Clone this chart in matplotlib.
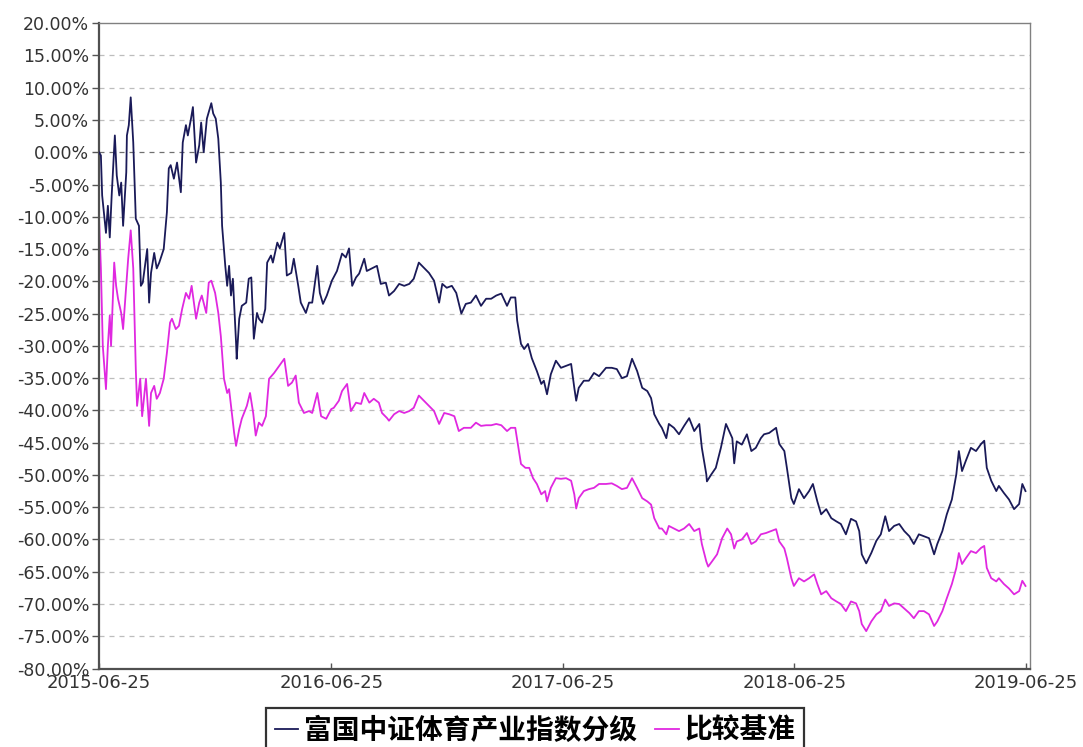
import matplotlib

matplotlib.use("Agg")
import matplotlib.dates as mdates
import matplotlib.pyplot as plt
import numpy as np
from matplotlib import font_manager
from matplotlib.ticker import FuncFormatter, MultipleLocator

START = np.datetime64("2015-06-25")

# days since 2015-06-25, cumulative return in %
fund_days = [
    0, 3, 5, 11, 14, 17, 20, 25, 28, 32, 35, 38, 43, 44, 47, 50, 54, 58, 63, 66,
    69, 76, 79, 82, 87, 91, 95, 102, 107, 110, 113, 118, 123, 129, 132, 137, 140, 145, 148, 153,
    158, 161, 165, 170, 177, 180, 184, 188, 192, 194, 199, 202, 205, 208, 211, 216, 217, 221, 225, 232,
    236, 240, 244, 249, 252, 257, 262, 265, 271, 274, 281, 285, 292, 296, 303, 307, 314, 318, 326, 331,
    336, 344, 348, 353, 359, 367, 375, 383, 389, 394, 399, 405, 410, 418, 422, 430, 438, 444, 452, 457,
    465, 473, 481, 489, 496, 504, 512, 520, 528, 536, 541, 548, 556, 563, 571, 578, 586, 594, 602, 610,
    618, 626, 634, 643, 649, 656, 659, 665, 670, 676, 682, 690, 697, 701, 706, 712, 720, 728, 736, 744,
    749, 752, 756, 764, 772, 780, 788, 799, 808, 816, 824, 832, 840, 848, 856, 864, 870, 875, 883, 887,
    894, 898, 906, 914, 922, 930, 938, 946, 950, 957, 958, 965, 972, 980, 988, 993, 998, 1001, 1005, 1013,
    1021, 1028, 1035, 1043, 1048, 1056, 1067, 1072, 1080, 1084, 1091, 1095, 1103, 1111, 1119, 1125, 1132, 1138, 1146, 1154,
    1162, 1169, 1177, 1185, 1193, 1198, 1202, 1209, 1217, 1225, 1232, 1239, 1245, 1253, 1261, 1269, 1277, 1284, 1292, 1300,
    1308, 1316, 1321, 1329, 1336, 1344, 1351, 1355, 1360, 1366, 1374, 1382, 1390, 1395, 1399, 1406, 1414, 1418, 1426, 1434,
    1442, 1450, 1455, 1460,
]
fund_pct = [
    0.0, -0.5, -6.7, -12.5, -8.3, -13.2, -6.7, 2.6, -3.6, -6.7, -4.7, -11.4, -3.1, 2.6, 4.2, 8.5, 1.5, -10.3, -11.4, -20.7,
    -20.2, -15.0, -23.3, -18.7, -15.6, -18.0, -17.1, -15.0, -9.3, -2.5, -2.0, -4.1, -1.6, -6.2, 1.5, 4.2, 2.6, 5.2, 7.0, -1.6,
    1.1, 4.6, 0.0, 5.2, 7.6, 6.0, 5.2, 2.1, -4.7, -11.4, -17.6, -20.7, -17.6, -22.2, -19.6, -29.5, -32.0, -25.8, -23.8, -23.3,
    -19.6, -19.4, -28.9, -24.9, -25.8, -26.4, -24.3, -17.1, -16.0, -17.1, -14.0, -14.9, -12.5, -19.1, -18.7, -16.5, -20.7, -23.3, -24.9, -23.3,
    -23.3, -17.6, -21.8, -23.5, -22.2, -19.9, -18.4, -15.7, -16.3, -14.9, -20.7, -19.4, -18.8, -16.5, -18.4, -18.0, -17.6, -20.4, -20.2, -22.2,
    -21.5, -20.4, -20.7, -20.4, -19.6, -17.1, -17.9, -18.7, -19.9, -23.3, -20.4, -21.0, -20.7, -21.8, -25.0, -23.5, -23.3, -22.2, -23.8, -22.7,
    -22.7, -22.2, -21.9, -23.8, -22.5, -22.5, -26.1, -29.7, -30.5, -29.7, -31.9, -33.9, -35.9, -35.4, -37.5, -34.4, -32.3, -33.4, -33.1, -32.8,
    -36.5, -38.5, -36.5, -35.4, -35.4, -34.2, -34.7, -33.4, -33.4, -33.6, -35.0, -34.7, -32.0, -33.9, -36.5, -37.0, -38.1, -40.6, -42.1, -42.7,
    -44.3, -42.1, -42.7, -43.7, -42.4, -41.2, -43.2, -42.1, -45.8, -49.9, -51.0, -49.9, -48.9, -45.8, -42.1, -43.2, -44.3, -48.2, -44.8, -45.3,
    -43.7, -46.3, -45.8, -44.3, -43.7, -43.5, -42.7, -45.2, -46.3, -48.9, -53.6, -54.5, -52.2, -53.6, -52.5, -51.4, -54.1, -56.1, -55.3, -56.7,
    -57.2, -57.6, -59.2, -56.8, -57.2, -58.7, -62.3, -63.7, -62.1, -60.2, -59.2, -56.4, -58.7, -57.9, -57.6, -58.7, -59.5, -60.7, -59.2, -59.5,
    -59.8, -62.3, -60.7, -58.7, -56.1, -53.8, -49.9, -46.3, -49.4, -47.8, -45.8, -46.3, -45.2, -44.7, -48.9, -50.9, -52.5, -51.7, -52.8, -53.8,
    -55.3, -54.5, -51.4, -52.5,
]

bench_days = [
    0, 3, 6, 11, 14, 17, 19, 24, 27, 30, 35, 38, 43, 46, 50, 54, 58, 60, 65, 68,
    74, 79, 82, 87, 91, 96, 102, 107, 112, 115, 121, 126, 131, 137, 142, 146, 153, 158, 162, 169,
    173, 177, 183, 188, 192, 197, 202, 205, 208, 213, 216, 221, 225, 233, 238, 243, 247, 252, 257, 263,
    268, 276, 284, 292, 298, 304, 310, 315, 323, 331, 336, 344, 350, 358, 366, 370, 378, 383, 391, 397,
    405, 413, 418, 426, 433, 441, 446, 454, 457, 465, 473, 481, 489, 496, 504, 512, 520, 528, 536, 544,
    552, 560, 567, 575, 586, 594, 602, 610, 618, 626, 634, 643, 649, 656, 661, 665, 672, 678, 684, 690,
    697, 703, 706, 712, 720, 728, 736, 744, 749, 752, 756, 764, 772, 780, 788, 799, 808, 816, 824, 832,
    840, 848, 856, 864, 870, 875, 883, 887, 894, 898, 906, 914, 922, 930, 938, 946, 950, 957, 960, 966,
    974, 982, 990, 996, 1001, 1005, 1013, 1021, 1028, 1035, 1043, 1051, 1059, 1067, 1072, 1080, 1084, 1091, 1095, 1103,
    1111, 1119, 1127, 1132, 1138, 1146, 1154, 1162, 1169, 1177, 1185, 1193, 1198, 1202, 1209, 1217, 1225, 1232, 1239, 1245,
    1253, 1261, 1269, 1277, 1284, 1292, 1300, 1308, 1316, 1321, 1329, 1336, 1344, 1351, 1355, 1360, 1366, 1374, 1382, 1390,
    1395, 1399, 1406, 1414, 1418, 1426, 1434, 1442, 1450, 1455, 1460,
]
bench_pct = [
    -10.0, -18.0, -30.0, -36.7, -30.0, -25.3, -30.0, -17.1, -20.7, -22.7, -24.9, -27.4, -20.7, -16.5, -12.1, -18.0, -33.6, -39.3, -35.1, -40.9,
    -35.1, -42.4, -37.3, -36.2, -38.2, -37.3, -35.1, -31.1, -26.4, -25.8, -27.4, -26.9, -24.3, -21.8, -22.7, -20.7, -25.8, -23.3, -22.2, -24.9,
    -20.2, -19.9, -21.8, -24.9, -28.5, -35.1, -37.3, -36.7, -39.3, -43.5, -45.5, -42.9, -41.3, -39.3, -37.3, -40.4, -43.9, -41.9, -42.4, -40.9,
    -35.1, -34.2, -33.1, -32.0, -36.2, -35.7, -34.6, -38.8, -40.4, -40.1, -40.4, -37.3, -40.9, -41.3, -39.8, -39.6, -38.5, -37.0, -35.9, -40.1,
    -38.8, -39.0, -37.3, -38.8, -38.2, -38.8, -40.4, -41.2, -41.6, -40.6, -40.1, -40.4, -40.1, -39.6, -37.7, -38.5, -39.3, -40.1, -42.1, -40.4,
    -40.6, -40.9, -43.2, -42.7, -42.7, -41.9, -42.4, -42.3, -42.3, -42.1, -42.3, -43.2, -42.7, -42.7, -45.8, -48.3, -48.9, -48.9, -50.5, -51.4,
    -53.0, -52.5, -54.1, -52.0, -50.5, -50.6, -50.5, -50.9, -53.0, -55.2, -53.6, -52.5, -52.2, -52.0, -51.4, -51.4, -51.3, -51.7, -52.2, -52.0,
    -50.5, -52.0, -53.6, -54.1, -54.6, -56.7, -58.3, -58.3, -59.2, -57.9, -58.3, -58.7, -58.3, -57.6, -58.7, -58.3, -60.7, -63.4, -64.2, -63.4,
    -62.3, -59.8, -58.3, -59.2, -61.4, -60.3, -60.0, -59.0, -60.7, -60.3, -59.2, -59.0, -58.7, -58.4, -60.3, -61.4, -62.9, -66.0, -67.2, -66.0,
    -66.5, -66.0, -65.4, -66.9, -68.5, -68.0, -69.1, -69.6, -70.0, -71.1, -69.6, -69.9, -71.1, -73.1, -74.2, -72.7, -71.6, -71.1, -69.3, -70.3,
    -69.9, -70.0, -70.7, -71.4, -72.2, -71.1, -71.1, -71.6, -73.4, -72.7, -71.1, -69.1, -66.9, -64.4, -62.1, -63.8, -62.9, -61.8, -62.1, -61.3,
    -61.0, -64.4, -66.0, -66.5, -66.0, -66.9, -67.6, -68.5, -68.0, -66.4, -67.2,
]

tick_dates = ["2015-06-25", "2016-06-25", "2017-06-25", "2018-06-25", "2019-06-25"]
series_names = ["富国中证体育产业指数分级", "比较基准"]


def _tick_font():
    # a narrow face is closer to the original's tall, thin digits
    try:
        font_manager.findfont("Liberation Sans Narrow", fallback_to_default=False)
        return "Liberation Sans Narrow", 17.5, 18.5
    except ValueError:
        return "DejaVu Sans", 12.5, 13


tick_family, ysize, xsize = _tick_font()

fund_x = START + np.array(fund_days, dtype="timedelta64[D]")
bench_x = START + np.array(bench_days, dtype="timedelta64[D]")

fig = plt.figure(figsize=(10.83, 7.47), dpi=100)
ax = fig.add_axes([0.0914, 0.105, 0.8596, 0.864])

for v in np.arange(-75, 20, 5):
    color = "#707070" if v == 0 else "#bdbdbd"
    ax.axhline(v, color=color, lw=0.9, ls=(0, (4, 4)), zorder=1)

l1, = ax.plot(fund_x, fund_pct, color="#1a1a58", lw=1.3, zorder=3)
l2, = ax.plot(bench_x, bench_pct, color="#e028e0", lw=1.3, zorder=2)

ax.set_ylim(-80, 20)
ax.set_xlim(np.datetime64("2015-06-25"), np.datetime64("2019-07-01"))
ax.yaxis.set_major_locator(MultipleLocator(5))
ax.yaxis.set_major_formatter(FuncFormatter(lambda v, p: f"{v:.2f}%"))
ax.set_xticks([np.datetime64(d) for d in tick_dates])
ax.xaxis.set_major_formatter(mdates.DateFormatter("%Y-%m-%d"))

ax.tick_params(axis="y", direction="out", length=5, width=1, colors="#555555",
               labelcolor="#333333", labelsize=ysize, pad=2)
ax.tick_params(axis="x", direction="in", length=4, width=1, colors="#555555",
               labelcolor="#333333", labelsize=xsize, pad=4)
for lab in ax.get_xticklabels() + ax.get_yticklabels():
    lab.set_family(tick_family)

for side in ["left", "bottom"]:
    ax.spines[side].set_color("#505050")
    ax.spines[side].set_linewidth(1.6)
for side in ["top", "right"]:
    ax.spines[side].set_color("#808080")
    ax.spines[side].set_linewidth(1.0)

leg = fig.legend([l1, l2], series_names, loc="upper center", bbox_to_anchor=(0.494, 0.052),
                 ncol=2, frameon=True, fancybox=False, handlelength=0.85, handletextpad=0.2,
                 columnspacing=0.65, borderpad=0.3, borderaxespad=0,
                 prop={"family": ["Noto Sans CJK SC", "DejaVu Sans"], "size": 20, "weight": "bold"})
leg.get_frame().set_edgecolor("#000000")
leg.get_frame().set_linewidth(1.6)

fig.savefig("out.png", dpi=100)
